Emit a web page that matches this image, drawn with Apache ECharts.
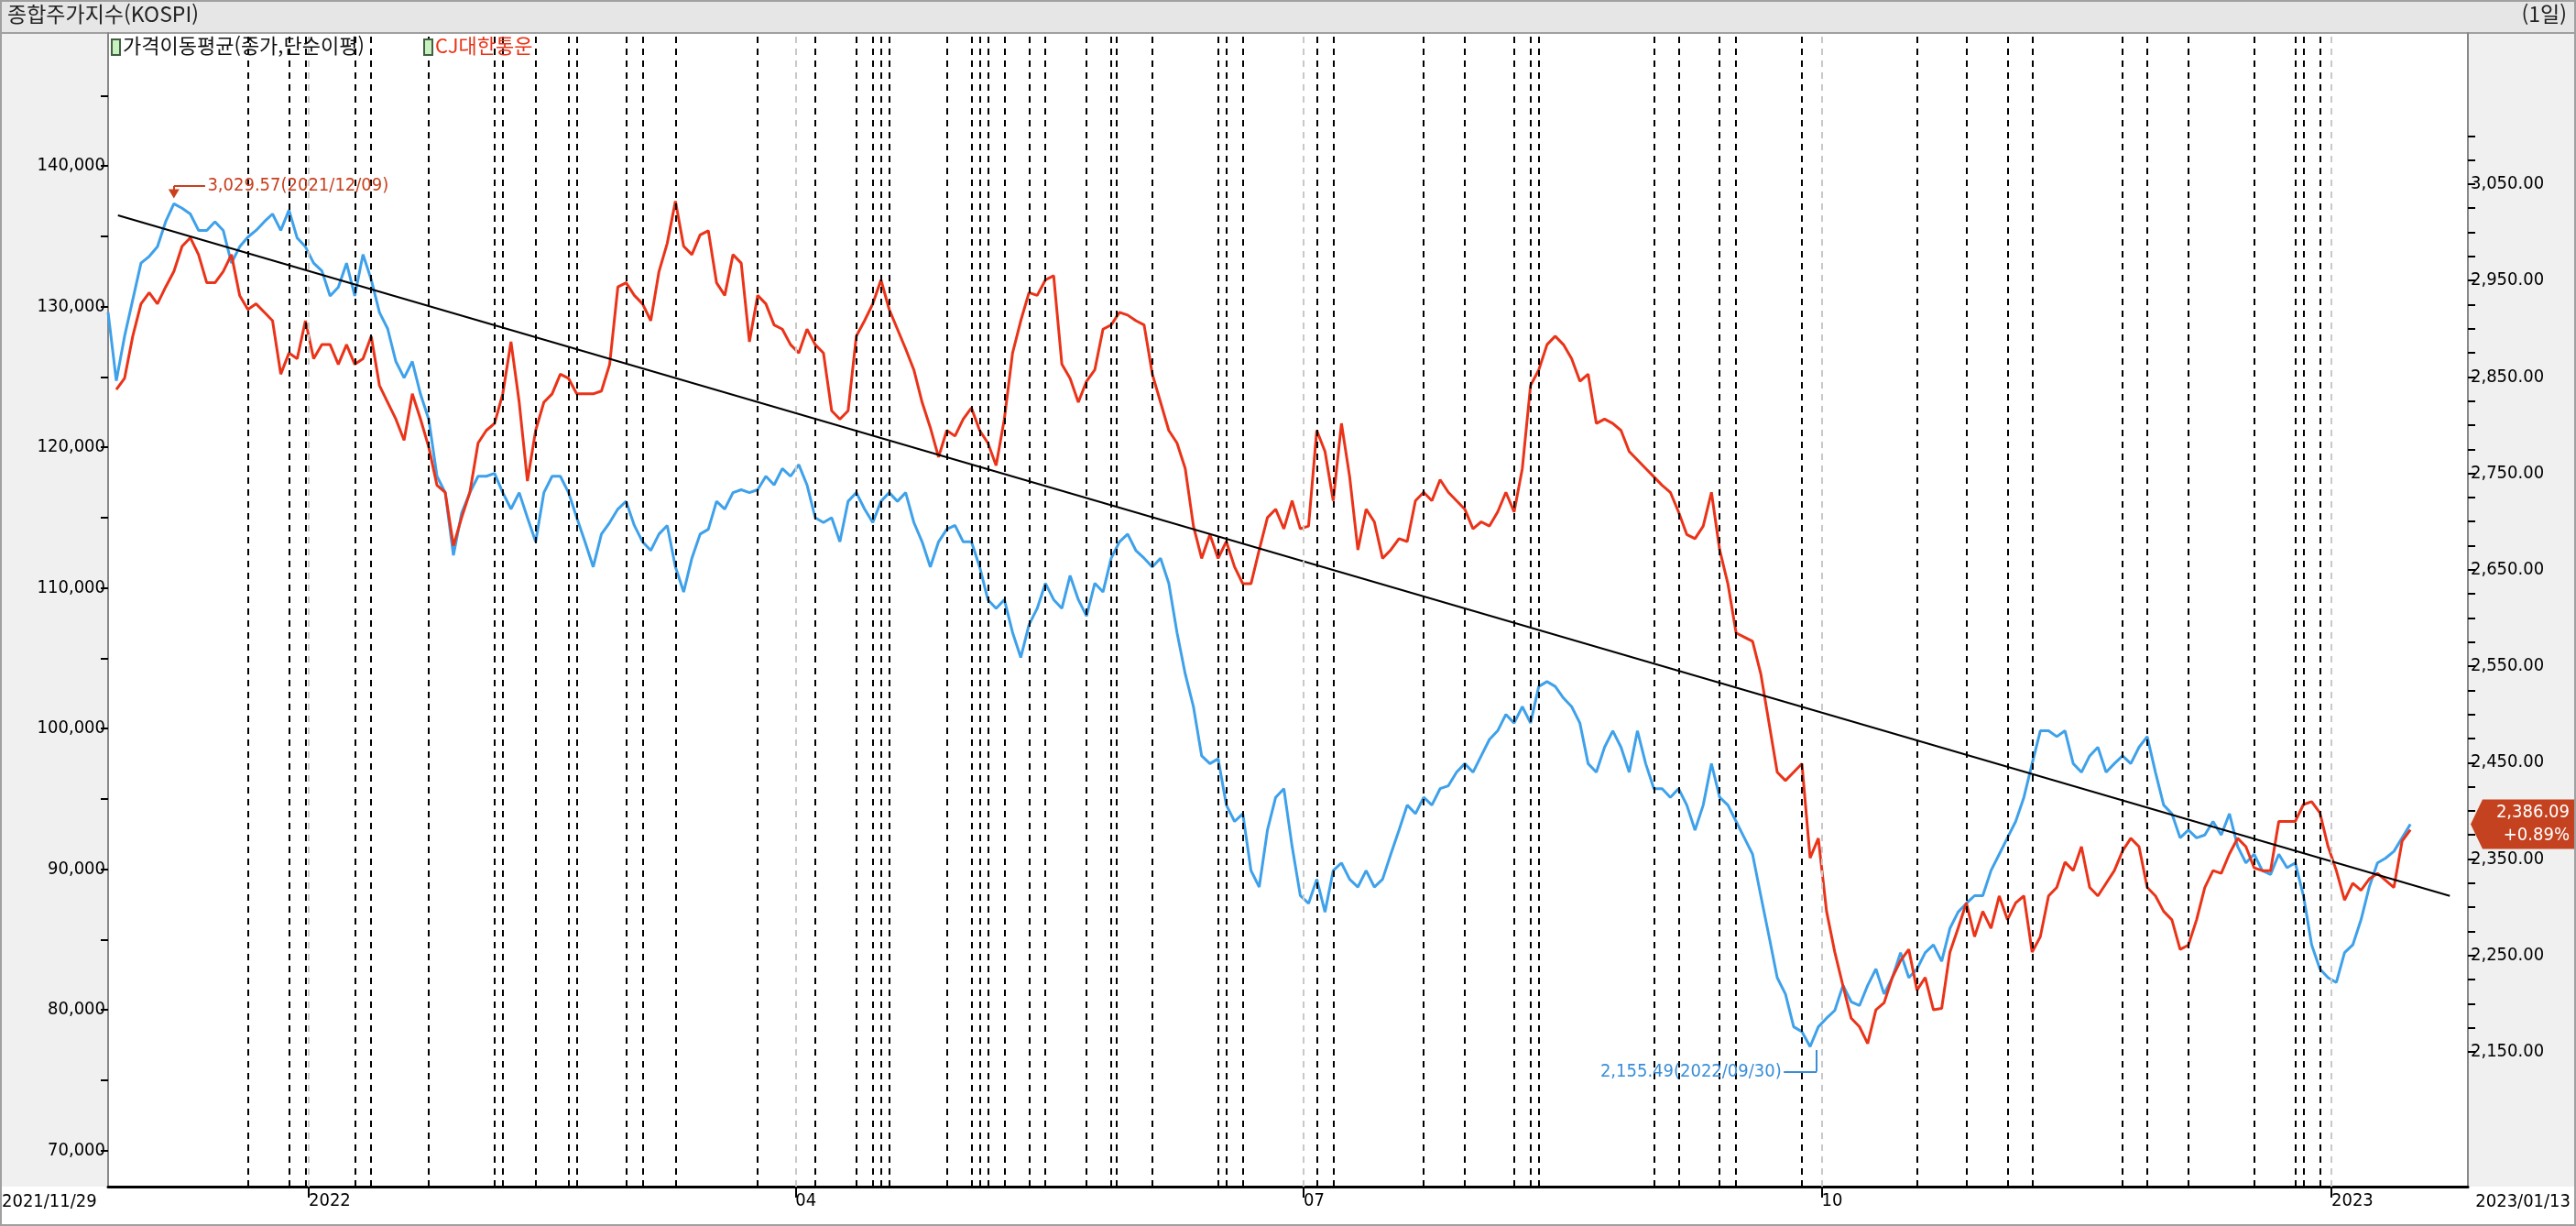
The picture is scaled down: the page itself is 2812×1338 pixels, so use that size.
<!DOCTYPE html>
<html lang="ko">
<head>
<meta charset="UTF-8">
<title>KOSPI</title>
<script src="https://cdn.jsdelivr.net/npm/echarts@6/dist/echarts.min.js"></script>
<style>
  html, body { margin: 0; padding: 0; background: #fff; }
  #main { width: 2812px; height: 1338px; }
</style>
</head>
<body>
<div id="main"></div>
<script>
// KOSPI close, one value per trading day from 2021/11/29 (right axis)
var kospi = [2917, 2846, 2892, 2930, 2968, 2975, 2985, 3011, 3029.57, 3025, 3019, 3002, 3002, 3011, 3002, 2968, 2985, 2995, 3002, 3011, 3019, 3002, 3023, 2994, 2985, 2968, 2960, 2934, 2943, 2968, 2934, 2977, 2951, 2917, 2900, 2866, 2849, 2866, 2832, 2806, 2747, 2730, 2665, 2709, 2730, 2747, 2747, 2750, 2730, 2713, 2730, 2704, 2679, 2730, 2747, 2747, 2730, 2704, 2679, 2653, 2687, 2699, 2713, 2721, 2696, 2679, 2670, 2687, 2696, 2653, 2627, 2662, 2687, 2692, 2721, 2713, 2730, 2733, 2730, 2733, 2747, 2738, 2755, 2747, 2759, 2738, 2704, 2699, 2704, 2679, 2721, 2730, 2713, 2699, 2721, 2730, 2721, 2730, 2699, 2679, 2653, 2679, 2692, 2696, 2679, 2679, 2653, 2619, 2610, 2619, 2585, 2559, 2593, 2610, 2636, 2619, 2610, 2644, 2619, 2602, 2636, 2627, 2662, 2679, 2687, 2670, 2662, 2653, 2662, 2636, 2585, 2542, 2508, 2457, 2449, 2454, 2406, 2389, 2397, 2338, 2321, 2380, 2414, 2423, 2363, 2312, 2304, 2329, 2295, 2338, 2346, 2329, 2321, 2338, 2321, 2329, 2355, 2380, 2406, 2397, 2414, 2406, 2423, 2426, 2440, 2449, 2440, 2457, 2474, 2483, 2500, 2491, 2508, 2491, 2529, 2534, 2529, 2517, 2508, 2491, 2449, 2440, 2466, 2483, 2466, 2440, 2483, 2449, 2423, 2423, 2414, 2423, 2406, 2380, 2406, 2449, 2414, 2406, 2389, 2372, 2355, 2312, 2270, 2227, 2210, 2176, 2171, 2155.49, 2176, 2185, 2193, 2219, 2202, 2198, 2219, 2236, 2210, 2227, 2253, 2227, 2236, 2253, 2261, 2244, 2278, 2295, 2304, 2312, 2312, 2338, 2355, 2372, 2389, 2414, 2449, 2483, 2483, 2477, 2483, 2449, 2440, 2457, 2466, 2440, 2449, 2457, 2449, 2466, 2477, 2440, 2406, 2397, 2372, 2380, 2372, 2375, 2389, 2375, 2397, 2363, 2346, 2355, 2338, 2334, 2355, 2341, 2346, 2312, 2261, 2236, 2227, 2222, 2253, 2261, 2287, 2321, 2346, 2351, 2358, 2372, 2386.09];

// CJ대한통운 close, one value per trading day (left axis)
var cj = [124100, 124900, 127900, 130200, 131000, 130200, 131400, 132500, 134300, 134900, 133700, 131700, 131700, 132500, 133700, 130800, 129800, 130200, 129600, 129000, 125200, 126700, 126300, 129000, 126300, 127300, 127300, 125900, 127300, 125900, 126300, 127900, 124400, 123200, 122000, 120500, 123800, 122000, 120000, 117300, 116800, 113000, 115000, 116800, 120300, 121200, 121700, 123800, 127500, 123200, 117600, 121200, 123200, 123800, 125200, 124900, 123800, 123800, 123800, 124000, 125900, 131400, 131700, 130800, 130200, 129000, 132500, 134500, 137500, 134300, 133700, 135100, 135400, 131700, 130800, 133700, 133100, 127500, 130800, 130200, 128700, 128400, 127300, 126700, 128400, 127300, 126700, 122600, 122000, 122600, 127900, 129000, 130200, 131900, 129800, 128400, 127000, 125500, 123200, 121400, 119300, 121200, 120800, 122000, 122800, 121200, 120300, 118700, 122000, 126700, 129000, 131000, 130800, 131900, 132200, 125900, 124900, 123200, 124700, 125500, 128400, 128700, 129600, 129400, 129000, 128700, 125200, 123200, 121200, 120300, 118500, 114400, 112100, 113800, 112100, 113300, 111500, 110300, 110300, 112700, 115000, 115600, 114200, 116200, 114200, 114400, 121200, 119700, 116200, 121700, 117900, 112700, 115600, 114700, 112100, 112700, 113500, 113300, 116200, 116800, 116200, 117700, 116800, 116200, 115600, 114200, 114700, 114400, 115400, 116800, 115400, 118500, 124400, 125500, 127300, 127900, 127300, 126300, 124700, 125200, 121700, 122000, 121700, 121200, 119700, 119100, 118500, 117900, 117300, 116800, 115400, 113800, 113500, 114400, 116800, 112700, 110300, 106800, 106500, 106200, 103900, 100400, 96900, 96300, 96900, 97500, 90800, 92200, 87000, 84100, 81700, 79400, 78800, 77600, 80000, 80500, 82300, 83500, 84300, 81400, 82300, 80000, 80100, 84100, 85800, 87600, 85200, 87000, 85800, 88100, 86400, 87600, 88100, 84100, 85200, 88100, 88700, 90500, 89900, 91600, 88700, 88100, 89000, 89900, 91300, 92200, 91600, 88700, 88100, 87000, 86400, 84300, 84600, 86400, 88700, 89900, 89700, 91100, 92200, 91600, 90100, 89900, 89900, 93400, 93400, 93400, 94600, 94800, 94000, 91600, 89900, 87800, 89000, 88500, 89300, 89700, 89200, 88700, 92000, 92800];

// event days (dashed black) and month-start days (dashed gray), in trading-day index
var eventDays = [17, 22, 24, 30, 32, 39, 47, 48, 52, 56, 57, 63, 65, 69, 79, 86, 91, 93, 94, 95, 102, 105, 106, 107, 109, 112, 114, 119, 122, 122.6, 127, 135, 136, 138, 147, 149, 160, 165, 171, 173, 174, 188, 191, 196, 198, 206, 220, 226, 231, 234, 245, 248, 253, 261, 266, 267, 269];
var monthDays = [24.4, 83.6, 145.4, 208.4, 270.4];
var monthLabels = ['2022', '04', '07', '10', '2023'];

var trend = [[1.2, 3017.6], [284.8, 2311.8]];
var leftTicks = [70000, 75000, 80000, 85000, 90000, 95000, 100000, 105000, 110000, 115000, 120000, 125000, 130000, 135000, 140000, 145000];
var leftLabels = [70000, 80000, 90000, 100000, 110000, 120000, 130000, 140000];
var rightTicks = [];
for (var t = 2150; t <= 3100; t += 25) rightTicks.push(t);
var rightLabels = [2150, 2250, 2350, 2450, 2550, 2650, 2750, 2850, 2950, 3050];

var FONT = '"Liberation Sans Narrow", "DejaVu Sans Condensed", "Noto Sans CJK KR", sans-serif';
var KFONT = '"Noto Sans CJK KR", sans-serif';
var RED = '#ea3318', BLUE = '#3ea1ea';

var chart = echarts.init(document.getElementById('main'));

function fmt(v, d) {
  return v.toLocaleString('en-US', { minimumFractionDigits: d, maximumFractionDigits: d });
}

var vlines = eventDays.map(function (d) {
  return { xAxis: d, lineStyle: { color: '#000', type: [7, 6], width: 2 } };
}).concat(monthDays.map(function (d) {
  return { xAxis: d, lineStyle: { color: '#c8c8c8', type: [7, 6], width: 2 } };
}));

chart.setOption({
  animation: false,
  backgroundColor: '#fff',
  grid: { left: 118, right: 118, top: 36, bottom: 43 },
  xAxis: {
    type: 'value', min: 0, max: 287,
    splitLine: { show: false },
    axisLine: { onZero: false, lineStyle: { color: '#000', width: 3 } },
    axisTick: { customValues: monthDays, length: 12, lineStyle: { color: '#000', width: 2 } },
    axisLabel: {
      customValues: monthDays, align: 'left', margin: 6,
      fontFamily: FONT, fontSize: 20, color: '#000',
      formatter: function (v) { return monthLabels[monthDays.indexOf(v)] || ''; }
    }
  },
  yAxis: [{
    type: 'value', min: 67430, max: 149460, position: 'left',
    splitLine: { show: false },
    axisLine: { show: true, lineStyle: { color: '#888', width: 2 } },
    axisTick: { show: true, customValues: leftTicks, length: 8, lineStyle: { color: '#000', width: 2 } },
    axisLabel: { customValues: leftLabels, margin: 3, fontFamily: FONT, fontSize: 20, color: '#000',
      formatter: function (v) { return fmt(v, 0); } }
  }, {
    type: 'value', min: 2010.3, max: 3206.7, position: 'right',
    splitLine: { show: false },
    axisLine: { show: true, lineStyle: { color: '#888', width: 2 } },
    axisTick: { show: true, customValues: rightTicks, length: 8, lineStyle: { color: '#000', width: 2 } },
    axisLabel: { customValues: rightLabels, margin: 3, fontFamily: FONT, fontSize: 20, color: '#000',
      formatter: function (v) { return fmt(v, 2); } }
  }],
  series: [{
    name: 'vlines', type: 'line', data: [], yAxisIndex: 0,
    markLine: { silent: true, symbol: 'none', label: { show: false }, data: vlines }
  }, {
    name: '가격이동평균(종가,단순이평)', type: 'line', yAxisIndex: 1, showSymbol: false,
    lineStyle: { color: BLUE, width: 3 }, itemStyle: { color: BLUE },
    data: kospi.map(function (v, i) { return [i, v]; }),
    markLine: {
      silent: true, symbol: 'none', label: { show: false },
      data: [
        [{ coord: [8, 3040], lineStyle: { color: '#c8401e', width: 2, type: 'solid' } }, { coord: [8, 3048] }],
        [{ coord: [8, 3048], lineStyle: { color: '#c8401e', width: 2, type: 'solid' } }, { coord: [11.8, 3048] }],
        [{ coord: [203.8, 2129.6], lineStyle: { color: '#3a8ed8', width: 2, type: 'solid' } }, { coord: [207.8, 2129.6] }],
        [{ coord: [207.8, 2129.6], lineStyle: { color: '#3a8ed8', width: 2, type: 'solid' } }, { coord: [207.8, 2152] }]
      ]
    },
    markPoint: {
      silent: true,
      data: [
        { coord: [8, 3040], symbol: 'triangle', symbolRotate: 180, symbolSize: [12, 10], itemStyle: { color: '#c8401e' }, label: { show: false } },
        { coord: [11.8, 3048], symbol: 'circle', symbolSize: 1, itemStyle: { color: 'rgba(0,0,0,0)' }, label: { show: true, position: 'right', distance: 2, color: '#c8401e', fontFamily: FONT, fontSize: 20, formatter: '3,029.57(2021/12/09)' } },
        { coord: [203.8, 2129.6], symbol: 'circle', symbolSize: 1, itemStyle: { color: 'rgba(0,0,0,0)' }, label: { show: true, position: 'left', distance: 2, color: '#3a8ed8', fontFamily: FONT, fontSize: 20, formatter: '2,155.49(2022/09/30)' } }
      ]
    }
  }, {
    name: 'CJ대한통운', type: 'line', yAxisIndex: 0, showSymbol: false,
    lineStyle: { color: RED, width: 3 }, itemStyle: { color: RED },
    data: cj.map(function (v, i) { return [i + 1, v]; })
  }, {
    name: 'trend', type: 'line', yAxisIndex: 1, showSymbol: false,
    lineStyle: { color: '#000', width: 2 }, data: trend
  }],
  graphic: [
    { type: 'rect', shape: { x: 0, y: 36, width: 117, height: 1259 }, style: { fill: '#f0f0f0' }, z: -10 },
    { type: 'rect', shape: { x: 2695, y: 36, width: 117, height: 1259 }, style: { fill: '#f0f0f0' }, z: -10 },
    { type: 'rect', shape: { x: 0, y: 0, width: 2812, height: 36 }, style: { fill: '#e6e6e6', stroke: '#a0a0a0', lineWidth: 2 } },
    { type: 'rect', shape: { x: 1, y: 1, width: 2810, height: 1336 }, style: { fill: 'none', stroke: '#a0a0a0', lineWidth: 2 }, z: 100 },
    { type: 'text', left: 8, top: 4, style: { text: '종합주가지수(KOSPI)', font: '23px ' + KFONT, fill: '#222' } },
    { type: 'text', right: 10, top: 4, style: { text: '(1일)', font: '23px ' + KFONT, fill: '#222' } },
    { type: 'rect', shape: { x: 122, y: 43, width: 9, height: 17 }, style: { fill: '#c8f0c0', stroke: '#406040', lineWidth: 2 }, z: 50 },
    { type: 'text', left: 134, top: 39, z: 50, style: { text: '가격이동평균(종가,단순이평)', font: '22px ' + KFONT, fill: '#111' } },
    { type: 'rect', shape: { x: 463, y: 43, width: 9, height: 17 }, style: { fill: '#c8f0c0', stroke: '#406040', lineWidth: 2 }, z: 50 },
    { type: 'text', left: 475, top: 39, z: 50, style: { text: 'CJ대한통운', font: '22px ' + KFONT, fill: RED } },
    { type: 'text', left: 2, top: 1302, style: { text: '2021/11/29', font: '20px ' + FONT, fill: '#000' } },
    { type: 'text', right: 6, top: 1302, style: { text: '2023/01/13', font: '20px ' + FONT, fill: '#000' } }
  ]
});

// last value tag on the right axis
var yTag = chart.convertToPixel({ yAxisIndex: 1 }, kospi[kospi.length - 1]);
chart.setOption({
  graphic: chart.getOption().graphic[0].elements.concat([
    { type: 'polygon', z: 60, shape: { points: [[2697, yTag], [2710, yTag - 27], [2812, yTag - 27], [2812, yTag + 27], [2710, yTag + 27]] }, style: { fill: '#c4421f' } },
    { type: 'text', z: 61, x: 2805, y: yTag - 25, style: { text: '2,386.09\n+0.89%', align: 'right', font: '20px ' + FONT, lineHeight: 25, fill: '#fff' } }
  ])
}, { replaceMerge: ['graphic'] });
</script>
</body>
</html>
